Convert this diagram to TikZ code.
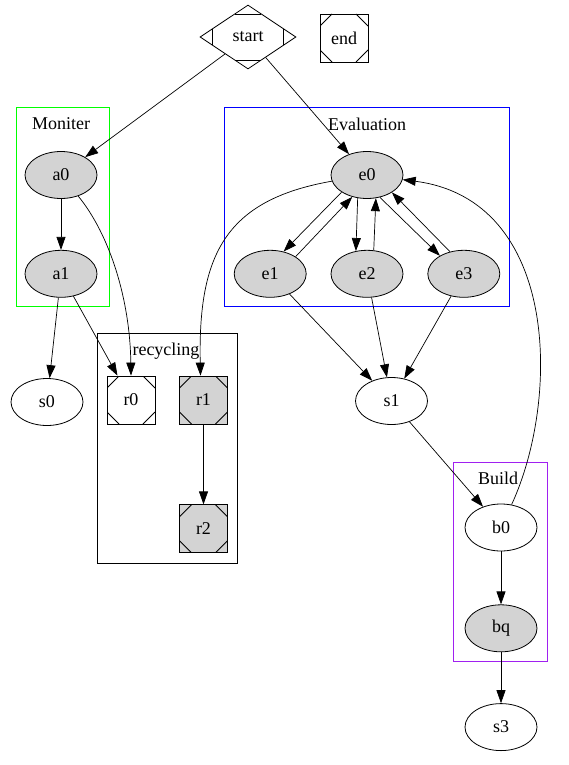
\documentclass[tikz,border=0pt]{standalone}
\usepackage{fontspec}
\setmainfont{Liberation Serif}
\usetikzlibrary{positioning,arrows.meta,shapes.geometric,calc}
\definecolor{nodegray}{HTML}{D3D3D3}
\definecolor{monigreen}{HTML}{00FF00}
\definecolor{evalblue}{HTML}{0000FF}
\definecolor{buildpurple}{HTML}{A020F0}

\begin{document}
\begin{tikzpicture}[x=1pt,y=-1pt,
  font=\fontsize{18}{20}\selectfont,
  stnode/.style={draw,ellipse,minimum width=72pt,minimum height=47pt,inner sep=0pt,line width=0.8pt},
  grnode/.style={stnode,fill=nodegray},
  msq/.style={draw,rectangle,minimum size=48pt,inner sep=0pt,line width=0.8pt,
    path picture={
      \draw ([yshift=-12pt]path picture bounding box.north west) -- ([xshift=12pt]path picture bounding box.north west);
      \draw ([yshift=-12pt]path picture bounding box.north east) -- ([xshift=-12pt]path picture bounding box.north east);
      \draw ([yshift=12pt]path picture bounding box.south west) -- ([xshift=12pt]path picture bounding box.south west);
      \draw ([yshift=12pt]path picture bounding box.south east) -- ([xshift=-12pt]path picture bounding box.south east);
    }},
  mdia/.style={draw,diamond,minimum width=96pt,minimum height=64pt,inner sep=0pt,line width=0.8pt,
    path picture={
      \coordinate (pw) at (path picture bounding box.west);
      \coordinate (pe) at (path picture bounding box.east);
      \coordinate (pn) at (path picture bounding box.north);
      \coordinate (ps) at (path picture bounding box.south);
      \draw ($(pw)!.25!(pn)$) -- ($(pw)!.25!(ps)$);
      \draw ($(pe)!.25!(pn)$) -- ($(pe)!.25!(ps)$);
      \draw ($(pn)!.28!(pw)$) -- ($(pn)!.28!(pe)$);
      \draw ($(ps)!.28!(pw)$) -- ($(ps)!.28!(pe)$);
    }},
  clus/.style={line width=0.8pt},
  arr/.style={-{Triangle[length=13pt,width=9pt]},line width=0.7pt}
]
  \useasboundingbox (0,0) rectangle (569,765);

  % clusters
  \draw[clus,monigreen] (16,107) rectangle (109,306);
  \draw[clus,evalblue] (224,107) rectangle (509,306);
  \draw[clus] (97,333) rectangle (237,563);
  \draw[clus,buildpurple] (453,462) rectangle (547,661);
  \node (lmon) at (61,124) {Moniter};
  \node (leval) at (367,124) {Evaluation};
  \node (lrec) at (166,351) {recycling};
  \node (lbuild) at (498,478) {Build};

  \node[mdia] (start) at (248,37) {start};
  \node[msq] (end) at (344,38) {end};

  \node[grnode] (a0) at (61,175) {a0};
  \node[grnode,below=51pt of a0] (a1) {a1};
  \node[stnode] (s0) at (47,402) {s0};

  \node[msq] (r0) at (131,400) {r0};
  \node[msq,fill=nodegray] (r1) at (203.5,400) {r1};
  \node[msq,fill=nodegray,below=80pt of r1] (r2) {r2};

  \node[grnode] (e0) at (367,175) {e0};
  \node[grnode,below=51pt of e0] (e2) {e2};
  \node[grnode,left=24pt of e2] (e1) {e1};
  \node[grnode,right=24pt of e2] (e3) {e3};
  \node[stnode] (s1) at (391.5,401) {s1};

  \node[stnode] (b0) at (501,527.5) {b0};
  \node[grnode,below=53pt of b0] (bq) {bq};
  \node[stnode,below=51pt of bq] (s3) {s3};

  \draw[arr] (start)--(a0);
  \draw[arr] (start)--(e0);
  \draw[arr] (a0)--(a1);
  \draw[arr] (a0) .. controls (110,235) and (130,300) .. (r0.north);
  \draw[arr] (a1)--(s0);
  \draw[arr] (a1)--(r0);
  \draw[arr] (r1)--(r2);
  \draw[arr] (e0) .. controls (225,200) and (198,255) .. ([xshift=-3pt]r1.north);
  \draw[arr] (e0.214)--(e1.59);
  \draw[arr] (e1.34)--(e0.236);
  \draw[arr] (e0.248)--(e2.116);
  \draw[arr] (e2.74)--(e0.291);
  \draw[arr] (e0.300)--(e3.143);
  \draw[arr] (e3.122)--(e0.325);
  \draw[arr] (e1)--(s1);
  \draw[arr] (e2)--(s1);
  \draw[arr] (e3)--(s1);
  \draw[arr] (s1)--(b0);
  \draw[arr] (b0) .. controls (560,400) and (560,200) .. (e0);
  \draw[arr] (b0)--(bq);
  \draw[arr] (bq)--(s3);
\end{tikzpicture}
\end{document}
